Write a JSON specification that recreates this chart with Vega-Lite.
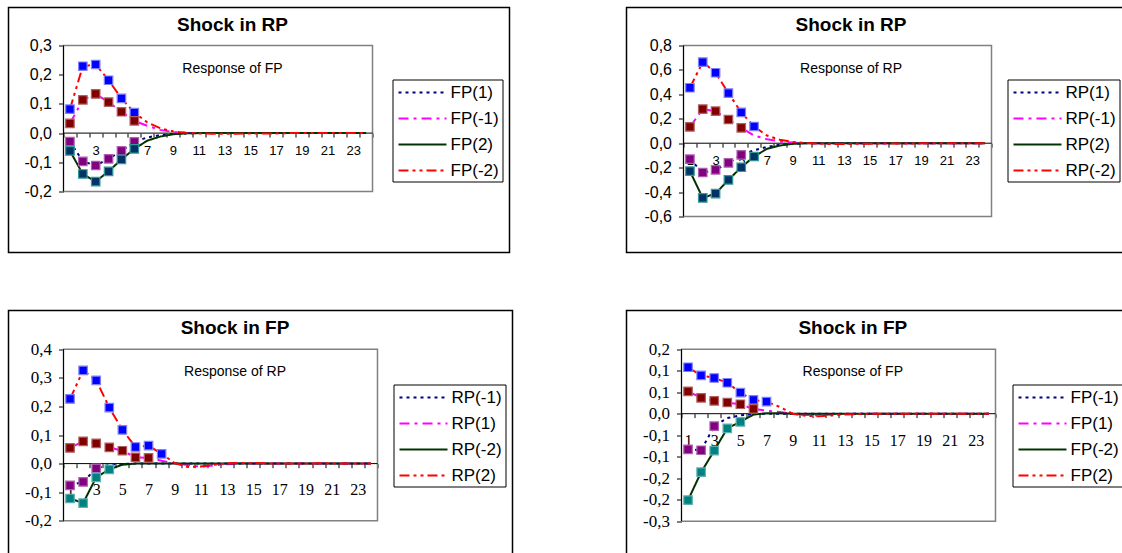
{
"$schema": "https://vega.github.io/schema/vega-lite/v6.json",
"padding": {"left": 7.5, "top": 6.5, "right": 0, "bottom": 0},
"background": "white",
"spacing": 56,
"datasets": {
"L1": [
{"t":1,"v":-0.029,"s":"FP(1)"},{"t":2,"v":-0.097,"s":"FP(1)"},{"t":3,"v":-0.111,"s":"FP(1)"},{"t":4,"v":-0.088,"s":"FP(1)"},{"t":5,"v":-0.061,"s":"FP(1)"},{"t":6,"v":-0.030,"s":"FP(1)"},{"t":7,"v":-0.015,"s":"FP(1)"},{"t":8,"v":-0.007,"s":"FP(1)"},{"t":9,"v":-0.003,"s":"FP(1)"},{"t":10,"v":-0.001,"s":"FP(1)"},{"t":11,"v":0,"s":"FP(1)"},{"t":12,"v":0,"s":"FP(1)"},{"t":13,"v":0,"s":"FP(1)"},{"t":14,"v":0,"s":"FP(1)"},{"t":15,"v":0,"s":"FP(1)"},{"t":16,"v":0,"s":"FP(1)"},{"t":17,"v":0,"s":"FP(1)"},{"t":18,"v":0,"s":"FP(1)"},{"t":19,"v":0,"s":"FP(1)"},{"t":20,"v":0,"s":"FP(1)"},{"t":21,"v":0,"s":"FP(1)"},{"t":22,"v":0,"s":"FP(1)"},{"t":23,"v":0,"s":"FP(1)"},{"t":24,"v":0,"s":"FP(1)"},
{"t":1,"v":0.033,"s":"FP(-1)"},{"t":2,"v":0.114,"s":"FP(-1)"},{"t":3,"v":0.134,"s":"FP(-1)"},{"t":4,"v":0.106,"s":"FP(-1)"},{"t":5,"v":0.073,"s":"FP(-1)"},{"t":6,"v":0.042,"s":"FP(-1)"},{"t":7,"v":0.025,"s":"FP(-1)"},{"t":8,"v":0.011,"s":"FP(-1)"},{"t":9,"v":0.004,"s":"FP(-1)"},{"t":10,"v":0.001,"s":"FP(-1)"},{"t":11,"v":0,"s":"FP(-1)"},{"t":12,"v":0,"s":"FP(-1)"},{"t":13,"v":0,"s":"FP(-1)"},{"t":14,"v":0,"s":"FP(-1)"},{"t":15,"v":0,"s":"FP(-1)"},{"t":16,"v":0,"s":"FP(-1)"},{"t":17,"v":0,"s":"FP(-1)"},{"t":18,"v":0,"s":"FP(-1)"},{"t":19,"v":0,"s":"FP(-1)"},{"t":20,"v":0,"s":"FP(-1)"},{"t":21,"v":0,"s":"FP(-1)"},{"t":22,"v":0,"s":"FP(-1)"},{"t":23,"v":0,"s":"FP(-1)"},{"t":24,"v":0,"s":"FP(-1)"},
{"t":1,"v":-0.061,"s":"FP(2)"},{"t":2,"v":-0.140,"s":"FP(2)"},{"t":3,"v":-0.166,"s":"FP(2)"},{"t":4,"v":-0.131,"s":"FP(2)"},{"t":5,"v":-0.090,"s":"FP(2)"},{"t":6,"v":-0.054,"s":"FP(2)"},{"t":7,"v":-0.026,"s":"FP(2)"},{"t":8,"v":-0.012,"s":"FP(2)"},{"t":9,"v":-0.004,"s":"FP(2)"},{"t":10,"v":-0.001,"s":"FP(2)"},{"t":11,"v":0,"s":"FP(2)"},{"t":12,"v":0,"s":"FP(2)"},{"t":13,"v":0,"s":"FP(2)"},{"t":14,"v":0,"s":"FP(2)"},{"t":15,"v":0,"s":"FP(2)"},{"t":16,"v":0,"s":"FP(2)"},{"t":17,"v":0,"s":"FP(2)"},{"t":18,"v":0,"s":"FP(2)"},{"t":19,"v":0,"s":"FP(2)"},{"t":20,"v":0,"s":"FP(2)"},{"t":21,"v":0,"s":"FP(2)"},{"t":22,"v":0,"s":"FP(2)"},{"t":23,"v":0,"s":"FP(2)"},{"t":24,"v":0,"s":"FP(2)"},
{"t":1,"v":0.082,"s":"FP(-2)"},{"t":2,"v":0.229,"s":"FP(-2)"},{"t":3,"v":0.235,"s":"FP(-2)"},{"t":4,"v":0.181,"s":"FP(-2)"},{"t":5,"v":0.119,"s":"FP(-2)"},{"t":6,"v":0.070,"s":"FP(-2)"},{"t":7,"v":0.037,"s":"FP(-2)"},{"t":8,"v":0.017,"s":"FP(-2)"},{"t":9,"v":0.006,"s":"FP(-2)"},{"t":10,"v":0.001,"s":"FP(-2)"},{"t":11,"v":-0.001,"s":"FP(-2)"},{"t":12,"v":-0.002,"s":"FP(-2)"},{"t":13,"v":-0.002,"s":"FP(-2)"},{"t":14,"v":-0.002,"s":"FP(-2)"},{"t":15,"v":-0.001,"s":"FP(-2)"},{"t":16,"v":-0.001,"s":"FP(-2)"},{"t":17,"v":-0.001,"s":"FP(-2)"},{"t":18,"v":0,"s":"FP(-2)"},{"t":19,"v":0,"s":"FP(-2)"},{"t":20,"v":0,"s":"FP(-2)"},{"t":21,"v":0,"s":"FP(-2)"},{"t":22,"v":0,"s":"FP(-2)"},{"t":23,"v":0,"s":"FP(-2)"},{"t":24,"v":0,"s":"FP(-2)"}
],
"M1": [
{"t":1,"v":0.082,"m":"blue"},{"t":2,"v":0.229,"m":"blue"},{"t":3,"v":0.235,"m":"blue"},{"t":4,"v":0.181,"m":"blue"},{"t":5,"v":0.119,"m":"blue"},{"t":6,"v":0.070,"m":"blue"},
{"t":1,"v":0.033,"m":"maroon"},{"t":2,"v":0.114,"m":"maroon"},{"t":3,"v":0.134,"m":"maroon"},{"t":4,"v":0.106,"m":"maroon"},{"t":5,"v":0.073,"m":"maroon"},{"t":6,"v":0.042,"m":"maroon"},
{"t":1,"v":-0.029,"m":"purple"},{"t":2,"v":-0.097,"m":"purple"},{"t":3,"v":-0.111,"m":"purple"},{"t":4,"v":-0.088,"m":"purple"},{"t":5,"v":-0.061,"m":"purple"},{"t":6,"v":-0.030,"m":"purple"},
{"t":1,"v":-0.061,"m":"teal"},{"t":2,"v":-0.140,"m":"teal"},{"t":3,"v":-0.166,"m":"teal"},{"t":4,"v":-0.131,"m":"teal"},{"t":5,"v":-0.090,"m":"teal"},{"t":6,"v":-0.054,"m":"teal"}
],
"L2": [
{"t":1,"v":-0.131,"s":"RP(1)"},{"t":2,"v":-0.240,"s":"RP(1)"},{"t":3,"v":-0.218,"s":"RP(1)"},{"t":4,"v":-0.161,"s":"RP(1)"},{"t":5,"v":-0.095,"s":"RP(1)"},{"t":6,"v":-0.058,"s":"RP(1)"},{"t":7,"v":-0.030,"s":"RP(1)"},{"t":8,"v":-0.013,"s":"RP(1)"},{"t":9,"v":-0.005,"s":"RP(1)"},{"t":10,"v":-0.001,"s":"RP(1)"},{"t":11,"v":0,"s":"RP(1)"},{"t":12,"v":0,"s":"RP(1)"},{"t":13,"v":0,"s":"RP(1)"},{"t":14,"v":0,"s":"RP(1)"},{"t":15,"v":0,"s":"RP(1)"},{"t":16,"v":0,"s":"RP(1)"},{"t":17,"v":0,"s":"RP(1)"},{"t":18,"v":0,"s":"RP(1)"},{"t":19,"v":0,"s":"RP(1)"},{"t":20,"v":0,"s":"RP(1)"},{"t":21,"v":0,"s":"RP(1)"},{"t":22,"v":0,"s":"RP(1)"},{"t":23,"v":0,"s":"RP(1)"},{"t":24,"v":0,"s":"RP(1)"},
{"t":1,"v":0.134,"s":"RP(-1)"},{"t":2,"v":0.279,"s":"RP(-1)"},{"t":3,"v":0.262,"s":"RP(-1)"},{"t":4,"v":0.194,"s":"RP(-1)"},{"t":5,"v":0.126,"s":"RP(-1)"},{"t":6,"v":0.063,"s":"RP(-1)"},{"t":7,"v":0.033,"s":"RP(-1)"},{"t":8,"v":0.015,"s":"RP(-1)"},{"t":9,"v":0.005,"s":"RP(-1)"},{"t":10,"v":0.001,"s":"RP(-1)"},{"t":11,"v":0,"s":"RP(-1)"},{"t":12,"v":0,"s":"RP(-1)"},{"t":13,"v":0,"s":"RP(-1)"},{"t":14,"v":0,"s":"RP(-1)"},{"t":15,"v":0,"s":"RP(-1)"},{"t":16,"v":0,"s":"RP(-1)"},{"t":17,"v":0,"s":"RP(-1)"},{"t":18,"v":0,"s":"RP(-1)"},{"t":19,"v":0,"s":"RP(-1)"},{"t":20,"v":0,"s":"RP(-1)"},{"t":21,"v":0,"s":"RP(-1)"},{"t":22,"v":0,"s":"RP(-1)"},{"t":23,"v":0,"s":"RP(-1)"},{"t":24,"v":0,"s":"RP(-1)"},
{"t":1,"v":-0.229,"s":"RP(2)"},{"t":2,"v":-0.448,"s":"RP(2)"},{"t":3,"v":-0.412,"s":"RP(2)"},{"t":4,"v":-0.300,"s":"RP(2)"},{"t":5,"v":-0.197,"s":"RP(2)"},{"t":6,"v":-0.109,"s":"RP(2)"},{"t":7,"v":-0.046,"s":"RP(2)"},{"t":8,"v":-0.019,"s":"RP(2)"},{"t":9,"v":-0.005,"s":"RP(2)"},{"t":10,"v":-0.001,"s":"RP(2)"},{"t":11,"v":0,"s":"RP(2)"},{"t":12,"v":0,"s":"RP(2)"},{"t":13,"v":0,"s":"RP(2)"},{"t":14,"v":0,"s":"RP(2)"},{"t":15,"v":0,"s":"RP(2)"},{"t":16,"v":0,"s":"RP(2)"},{"t":17,"v":0,"s":"RP(2)"},{"t":18,"v":0,"s":"RP(2)"},{"t":19,"v":0,"s":"RP(2)"},{"t":20,"v":0,"s":"RP(2)"},{"t":21,"v":0,"s":"RP(2)"},{"t":22,"v":0,"s":"RP(2)"},{"t":23,"v":0,"s":"RP(2)"},{"t":24,"v":0,"s":"RP(2)"},
{"t":1,"v":0.454,"s":"RP(-2)"},{"t":2,"v":0.664,"s":"RP(-2)"},{"t":3,"v":0.577,"s":"RP(-2)"},{"t":4,"v":0.410,"s":"RP(-2)"},{"t":5,"v":0.252,"s":"RP(-2)"},{"t":6,"v":0.137,"s":"RP(-2)"},{"t":7,"v":0.063,"s":"RP(-2)"},{"t":8,"v":0.028,"s":"RP(-2)"},{"t":9,"v":0.010,"s":"RP(-2)"},{"t":10,"v":0.002,"s":"RP(-2)"},{"t":11,"v":-0.004,"s":"RP(-2)"},{"t":12,"v":-0.006,"s":"RP(-2)"},{"t":13,"v":-0.006,"s":"RP(-2)"},{"t":14,"v":-0.005,"s":"RP(-2)"},{"t":15,"v":-0.004,"s":"RP(-2)"},{"t":16,"v":-0.003,"s":"RP(-2)"},{"t":17,"v":-0.002,"s":"RP(-2)"},{"t":18,"v":-0.002,"s":"RP(-2)"},{"t":19,"v":-0.001,"s":"RP(-2)"},{"t":20,"v":-0.001,"s":"RP(-2)"},{"t":21,"v":0,"s":"RP(-2)"},{"t":22,"v":0,"s":"RP(-2)"},{"t":23,"v":0,"s":"RP(-2)"},{"t":24,"v":0,"s":"RP(-2)"}
],
"M2": [
{"t":1,"v":0.454,"m":"blue"},{"t":2,"v":0.664,"m":"blue"},{"t":3,"v":0.577,"m":"blue"},{"t":4,"v":0.410,"m":"blue"},{"t":5,"v":0.252,"m":"blue"},{"t":6,"v":0.137,"m":"blue"},
{"t":1,"v":0.134,"m":"maroon"},{"t":2,"v":0.279,"m":"maroon"},{"t":3,"v":0.262,"m":"maroon"},{"t":4,"v":0.194,"m":"maroon"},{"t":5,"v":0.126,"m":"maroon"},
{"t":1,"v":-0.131,"m":"purple"},{"t":2,"v":-0.240,"m":"purple"},{"t":3,"v":-0.218,"m":"purple"},{"t":4,"v":-0.161,"m":"purple"},{"t":5,"v":-0.095,"m":"purple"},
{"t":1,"v":-0.229,"m":"teal"},{"t":2,"v":-0.448,"m":"teal"},{"t":3,"v":-0.412,"m":"teal"},{"t":4,"v":-0.300,"m":"teal"},{"t":5,"v":-0.197,"m":"teal"},{"t":6,"v":-0.109,"m":"teal"}
],
"L3": [
{"t":1,"v":-0.076,"s":"RP(-1)"},{"t":2,"v":-0.064,"s":"RP(-1)"},{"t":3,"v":-0.017,"s":"RP(-1)"},{"t":4,"v":-0.004,"s":"RP(-1)"},{"t":5,"v":-0.001,"s":"RP(-1)"},{"t":6,"v":0,"s":"RP(-1)"},{"t":7,"v":0,"s":"RP(-1)"},{"t":8,"v":0,"s":"RP(-1)"},{"t":9,"v":0,"s":"RP(-1)"},{"t":10,"v":0,"s":"RP(-1)"},{"t":11,"v":0,"s":"RP(-1)"},{"t":12,"v":0,"s":"RP(-1)"},{"t":13,"v":0,"s":"RP(-1)"},{"t":14,"v":0,"s":"RP(-1)"},{"t":15,"v":0,"s":"RP(-1)"},{"t":16,"v":0,"s":"RP(-1)"},{"t":17,"v":0,"s":"RP(-1)"},{"t":18,"v":0,"s":"RP(-1)"},{"t":19,"v":0,"s":"RP(-1)"},{"t":20,"v":0,"s":"RP(-1)"},{"t":21,"v":0,"s":"RP(-1)"},{"t":22,"v":0,"s":"RP(-1)"},{"t":23,"v":0,"s":"RP(-1)"},{"t":24,"v":0,"s":"RP(-1)"},
{"t":1,"v":0.055,"s":"RP(1)"},{"t":2,"v":0.078,"s":"RP(1)"},{"t":3,"v":0.071,"s":"RP(1)"},{"t":4,"v":0.057,"s":"RP(1)"},{"t":5,"v":0.045,"s":"RP(1)"},{"t":6,"v":0.022,"s":"RP(1)"},{"t":7,"v":0.020,"s":"RP(1)"},{"t":8,"v":0.010,"s":"RP(1)"},{"t":9,"v":0.001,"s":"RP(1)"},{"t":10,"v":-0.005,"s":"RP(1)"},{"t":11,"v":-0.011,"s":"RP(1)"},{"t":12,"v":-0.006,"s":"RP(1)"},{"t":13,"v":-0.002,"s":"RP(1)"},{"t":14,"v":0,"s":"RP(1)"},{"t":15,"v":0,"s":"RP(1)"},{"t":16,"v":0,"s":"RP(1)"},{"t":17,"v":0,"s":"RP(1)"},{"t":18,"v":0,"s":"RP(1)"},{"t":19,"v":0,"s":"RP(1)"},{"t":20,"v":0,"s":"RP(1)"},{"t":21,"v":0,"s":"RP(1)"},{"t":22,"v":0,"s":"RP(1)"},{"t":23,"v":0,"s":"RP(1)"},{"t":24,"v":0,"s":"RP(1)"},
{"t":1,"v":-0.122,"s":"RP(-2)"},{"t":2,"v":-0.138,"s":"RP(-2)"},{"t":3,"v":-0.048,"s":"RP(-2)"},{"t":4,"v":-0.020,"s":"RP(-2)"},{"t":5,"v":-0.004,"s":"RP(-2)"},{"t":6,"v":0,"s":"RP(-2)"},{"t":7,"v":0,"s":"RP(-2)"},{"t":8,"v":0,"s":"RP(-2)"},{"t":9,"v":0,"s":"RP(-2)"},{"t":10,"v":0,"s":"RP(-2)"},{"t":11,"v":0,"s":"RP(-2)"},{"t":12,"v":0,"s":"RP(-2)"},{"t":13,"v":0,"s":"RP(-2)"},{"t":14,"v":0,"s":"RP(-2)"},{"t":15,"v":0,"s":"RP(-2)"},{"t":16,"v":0,"s":"RP(-2)"},{"t":17,"v":0,"s":"RP(-2)"},{"t":18,"v":0,"s":"RP(-2)"},{"t":19,"v":0,"s":"RP(-2)"},{"t":20,"v":0,"s":"RP(-2)"},{"t":21,"v":0,"s":"RP(-2)"},{"t":22,"v":0,"s":"RP(-2)"},{"t":23,"v":0,"s":"RP(-2)"},{"t":24,"v":0,"s":"RP(-2)"},
{"t":1,"v":0.226,"s":"RP(2)"},{"t":2,"v":0.326,"s":"RP(2)"},{"t":3,"v":0.291,"s":"RP(2)"},{"t":4,"v":0.196,"s":"RP(2)"},{"t":5,"v":0.118,"s":"RP(2)"},{"t":6,"v":0.058,"s":"RP(2)"},{"t":7,"v":0.063,"s":"RP(2)"},{"t":8,"v":0.034,"s":"RP(2)"},{"t":9,"v":0.002,"s":"RP(2)"},{"t":10,"v":-0.012,"s":"RP(2)"},{"t":11,"v":-0.010,"s":"RP(2)"},{"t":12,"v":-0.004,"s":"RP(2)"},{"t":13,"v":0.001,"s":"RP(2)"},{"t":14,"v":0.002,"s":"RP(2)"},{"t":15,"v":0.002,"s":"RP(2)"},{"t":16,"v":0.001,"s":"RP(2)"},{"t":17,"v":0,"s":"RP(2)"},{"t":18,"v":0,"s":"RP(2)"},{"t":19,"v":0,"s":"RP(2)"},{"t":20,"v":0.001,"s":"RP(2)"},{"t":21,"v":0.001,"s":"RP(2)"},{"t":22,"v":0,"s":"RP(2)"},{"t":23,"v":0,"s":"RP(2)"},{"t":24,"v":0,"s":"RP(2)"}
],
"M3": [
{"t":1,"v":0.226,"m":"blue"},{"t":2,"v":0.326,"m":"blue"},{"t":3,"v":0.291,"m":"blue"},{"t":4,"v":0.196,"m":"blue"},{"t":5,"v":0.118,"m":"blue"},{"t":6,"v":0.058,"m":"blue"},{"t":7,"v":0.063,"m":"blue"},{"t":8,"v":0.034,"m":"blue"},
{"t":1,"v":0.055,"m":"maroon"},{"t":2,"v":0.078,"m":"maroon"},{"t":3,"v":0.071,"m":"maroon"},{"t":4,"v":0.057,"m":"maroon"},{"t":5,"v":0.045,"m":"maroon"},{"t":6,"v":0.022,"m":"maroon"},{"t":7,"v":0.020,"m":"maroon"},
{"t":1,"v":-0.076,"m":"purple"},{"t":2,"v":-0.064,"m":"purple"},{"t":3,"v":-0.017,"m":"purple"},
{"t":1,"v":-0.122,"m":"teal"},{"t":2,"v":-0.138,"m":"teal"},{"t":3,"v":-0.048,"m":"teal"},{"t":4,"v":-0.020,"m":"teal"}
],
"L4": [
{"t":1,"v":-0.083,"s":"FP(-1)"},{"t":2,"v":-0.085,"s":"FP(-1)"},{"t":3,"v":-0.029,"s":"FP(-1)"},{"t":4,"v":-0.010,"s":"FP(-1)"},{"t":5,"v":-0.004,"s":"FP(-1)"},{"t":6,"v":-0.001,"s":"FP(-1)"},{"t":7,"v":0,"s":"FP(-1)"},{"t":8,"v":0,"s":"FP(-1)"},{"t":9,"v":0,"s":"FP(-1)"},{"t":10,"v":0,"s":"FP(-1)"},{"t":11,"v":0,"s":"FP(-1)"},{"t":12,"v":0,"s":"FP(-1)"},{"t":13,"v":0,"s":"FP(-1)"},{"t":14,"v":0,"s":"FP(-1)"},{"t":15,"v":0,"s":"FP(-1)"},{"t":16,"v":0,"s":"FP(-1)"},{"t":17,"v":0,"s":"FP(-1)"},{"t":18,"v":0,"s":"FP(-1)"},{"t":19,"v":0,"s":"FP(-1)"},{"t":20,"v":0,"s":"FP(-1)"},{"t":21,"v":0,"s":"FP(-1)"},{"t":22,"v":0,"s":"FP(-1)"},{"t":23,"v":0,"s":"FP(-1)"},{"t":24,"v":0,"s":"FP(-1)"},
{"t":1,"v":0.052,"s":"FP(1)"},{"t":2,"v":0.037,"s":"FP(1)"},{"t":3,"v":0.030,"s":"FP(1)"},{"t":4,"v":0.026,"s":"FP(1)"},{"t":5,"v":0.022,"s":"FP(1)"},{"t":6,"v":0.011,"s":"FP(1)"},{"t":7,"v":0.007,"s":"FP(1)"},{"t":8,"v":0.004,"s":"FP(1)"},{"t":9,"v":0,"s":"FP(1)"},{"t":10,"v":-0.003,"s":"FP(1)"},{"t":11,"v":-0.004,"s":"FP(1)"},{"t":12,"v":-0.002,"s":"FP(1)"},{"t":13,"v":-0.001,"s":"FP(1)"},{"t":14,"v":0,"s":"FP(1)"},{"t":15,"v":0,"s":"FP(1)"},{"t":16,"v":0,"s":"FP(1)"},{"t":17,"v":0,"s":"FP(1)"},{"t":18,"v":0,"s":"FP(1)"},{"t":19,"v":0,"s":"FP(1)"},{"t":20,"v":0,"s":"FP(1)"},{"t":21,"v":0,"s":"FP(1)"},{"t":22,"v":0,"s":"FP(1)"},{"t":23,"v":0,"s":"FP(1)"},{"t":24,"v":0,"s":"FP(1)"},
{"t":1,"v":-0.201,"s":"FP(-2)"},{"t":2,"v":-0.136,"s":"FP(-2)"},{"t":3,"v":-0.086,"s":"FP(-2)"},{"t":4,"v":-0.034,"s":"FP(-2)"},{"t":5,"v":-0.019,"s":"FP(-2)"},{"t":6,"v":-0.002,"s":"FP(-2)"},{"t":7,"v":0.001,"s":"FP(-2)"},{"t":8,"v":0.001,"s":"FP(-2)"},{"t":9,"v":0,"s":"FP(-2)"},{"t":10,"v":0,"s":"FP(-2)"},{"t":11,"v":0,"s":"FP(-2)"},{"t":12,"v":0,"s":"FP(-2)"},{"t":13,"v":0,"s":"FP(-2)"},{"t":14,"v":0,"s":"FP(-2)"},{"t":15,"v":0,"s":"FP(-2)"},{"t":16,"v":0,"s":"FP(-2)"},{"t":17,"v":0,"s":"FP(-2)"},{"t":18,"v":0,"s":"FP(-2)"},{"t":19,"v":0,"s":"FP(-2)"},{"t":20,"v":0,"s":"FP(-2)"},{"t":21,"v":0,"s":"FP(-2)"},{"t":22,"v":0,"s":"FP(-2)"},{"t":23,"v":0,"s":"FP(-2)"},{"t":24,"v":0,"s":"FP(-2)"},
{"t":1,"v":0.108,"s":"FP(2)"},{"t":2,"v":0.089,"s":"FP(2)"},{"t":3,"v":0.083,"s":"FP(2)"},{"t":4,"v":0.072,"s":"FP(2)"},{"t":5,"v":0.049,"s":"FP(2)"},{"t":6,"v":0.032,"s":"FP(2)"},{"t":7,"v":0.028,"s":"FP(2)"},{"t":8,"v":0.016,"s":"FP(2)"},{"t":9,"v":0,"s":"FP(2)"},{"t":10,"v":-0.005,"s":"FP(2)"},{"t":11,"v":-0.006,"s":"FP(2)"},{"t":12,"v":-0.004,"s":"FP(2)"},{"t":13,"v":-0.002,"s":"FP(2)"},{"t":14,"v":-0.001,"s":"FP(2)"},{"t":15,"v":0,"s":"FP(2)"},{"t":16,"v":0,"s":"FP(2)"},{"t":17,"v":0,"s":"FP(2)"},{"t":18,"v":0,"s":"FP(2)"},{"t":19,"v":0,"s":"FP(2)"},{"t":20,"v":0,"s":"FP(2)"},{"t":21,"v":0,"s":"FP(2)"},{"t":22,"v":0,"s":"FP(2)"},{"t":23,"v":0,"s":"FP(2)"},{"t":24,"v":0,"s":"FP(2)"}
],
"M4": [
{"t":1,"v":0.108,"m":"blue"},{"t":2,"v":0.089,"m":"blue"},{"t":3,"v":0.083,"m":"blue"},{"t":4,"v":0.072,"m":"blue"},{"t":5,"v":0.049,"m":"blue"},{"t":6,"v":0.032,"m":"blue"},{"t":7,"v":0.028,"m":"blue"},
{"t":1,"v":0.052,"m":"maroon"},{"t":2,"v":0.037,"m":"maroon"},{"t":3,"v":0.030,"m":"maroon"},{"t":4,"v":0.026,"m":"maroon"},{"t":5,"v":0.022,"m":"maroon"},{"t":6,"v":0.011,"m":"maroon"},
{"t":1,"v":-0.083,"m":"purple"},{"t":2,"v":-0.085,"m":"purple"},{"t":3,"v":-0.029,"m":"purple"},
{"t":1,"v":-0.201,"m":"teal"},{"t":2,"v":-0.136,"m":"teal"},{"t":3,"v":-0.086,"m":"teal"},{"t":4,"v":-0.034,"m":"teal"},{"t":5,"v":-0.019,"m":"teal"}
]
},
"resolve": {"scale": {"x": "independent", "y": "independent", "color": "independent", "strokeDash": "independent", "strokeWidth": "independent", "fill": "independent", "stroke": "independent"}},
"vconcat": [
{
"spacing": 115,
"resolve": {"scale": {"x": "independent", "y": "independent", "color": "independent", "strokeDash": "independent", "strokeWidth": "independent", "fill": "independent", "stroke": "independent"}},
"hconcat": [
{
"width": 501, "height": 245,
"title": {"text": "Shock in RP", "subtitle": "Response of FP", "anchor": "middle", "frame": "group", "offset": -68, "dx": -26.5, "font": "Liberation Sans", "fontSize": 19, "fontWeight": "bold", "color": "black", "subtitleFont": "Liberation Sans", "subtitleFontSize": 14, "subtitleColor": "black", "subtitlePadding": 27},
"layer": [
{"data": {"values": [{}]}, "mark": {"type": "rect", "fillOpacity": 0, "stroke": "#808080", "strokeWidth": 1.5},
 "encoding": {
  "x": {"datum": 0.5, "type": "quantitative", "scale": {"domain": [-3.772, 35.14], "nice": false, "zero": false},
   "axis": {"orient": "bottom", "offset": -119.4, "title": null, "domain": false, "grid": false, "tickCount": 200, "values": [0.5,1,1.5,2,2.5,3,3.5,4,4.5,5,5.5,6,6.5,7,7.5,8,8.5,9,9.5,10,10.5,11,11.5,12,12.5,13,13.5,14,14.5,15,15.5,16,16.5,17,17.5,18,18.5,19,19.5,20,20.5,21,21.5,22,22.5,23,23.5,24,24.5],
    "labelExpr": "datum.value % 2 === 1 ? '' + datum.value : ''", "tickOpacity": {"condition": {"test": "datum.value % 1 === 0", "value": 0}, "value": 1},
    "tickSize": 4, "tickColor": "black", "labelPadding": 7, "labelFont": "Liberation Sans", "labelFontSize": 13, "labelColor": "black", "labelOverlap": false, "labelFlush": false, "labelBound": false}},
  "x2": {"datum": 24.5},
  "y": {"datum": -0.2, "type": "quantitative", "scale": {"domain": [-0.4089, 0.4301], "nice": false, "zero": false},
   "axis": {"orient": "left", "offset": -55, "title": null, "domain": false, "grid": false, "tickCount": 50, "values": [-0.2,-0.1,0,0.1,0.2,0.3],
    "labelExpr": "(datum.value < -1e-9 ? '-' : '') + replace(format(abs(datum.value) + 1e-9, '.1f'), '.', ',')",
    "tickSize": 5, "tickColor": "black", "labelPadding": 7, "labelFont": "Liberation Sans", "labelFontSize": 16, "labelColor": "black", "labelOverlap": false, "labelFlush": false, "labelBound": false}},
  "y2": {"datum": 0.3}}},
{"data": {"values": [{}]}, "mark": {"type": "rule", "color": "black", "strokeWidth": 1},
 "encoding": {"x": {"datum": 0.5, "type": "quantitative"}, "x2": {"datum": 24.5}, "y": {"datum": 0, "type": "quantitative"}}},
{"data": {"values": [{}]}, "mark": {"type": "rule", "color": "black", "strokeWidth": 1},
 "encoding": {"x": {"datum": 0.5, "type": "quantitative"}, "y": {"datum": -0.2, "type": "quantitative"}, "y2": {"datum": 0.3}}},
{"data": {"name": "L1"}, "mark": {"type": "line", "strokeCap": "butt"},
 "encoding": {
  "x": {"field": "t", "type": "quantitative"},
  "y": {"field": "v", "type": "quantitative"},
  "color": {"field": "s", "type": "nominal", "scale": {"domain": ["FP(1)","FP(-1)","FP(2)","FP(-2)"], "range": ["#000080","#FF00FF","#003300","#FF0000"]},
   "legend": {"orient": "none", "legendX": 384, "legendY": 72, "title": null, "strokeColor": "black", "fillColor": "white", "padding": 3, "labelFont": "Liberation Sans", "labelFontSize": 17, "labelColor": "black", "symbolType": "M-2.667,0H2.667", "symbolSize": 324, "symbolOffset": 17, "symbolStrokeWidth": 2, "rowPadding": 8, "labelOffset": 18}},
  "strokeDash": {"field": "s", "type": "nominal", "scale": {"domain": ["FP(1)","FP(-1)","FP(2)","FP(-2)"], "range": [[3,4],[10,5,3,5],[1,0],[10,4,3,4,3,4]]},
   "legend": {"orient": "none", "legendX": 384, "legendY": 72, "title": null, "strokeColor": "black", "fillColor": "white", "padding": 3, "labelFont": "Liberation Sans", "labelFontSize": 17, "labelColor": "black", "symbolType": "M-2.667,0H2.667", "symbolSize": 324, "symbolOffset": 17, "symbolStrokeWidth": 2, "rowPadding": 8, "labelOffset": 18}},
  "strokeWidth": {"field": "s", "type": "nominal", "scale": {"domain": ["FP(1)","FP(-1)","FP(2)","FP(-2)"], "range": [2,2,1.5,2]}, "legend": null}
 }},
{"data": {"name": "M1"}, "mark": {"type": "point", "shape": "square", "filled": true, "size": 72, "strokeWidth": 1.2, "opacity": 1},
 "encoding": {
  "x": {"field": "t", "type": "quantitative"},
  "y": {"field": "v", "type": "quantitative"},
  "fill": {"field": "m", "type": "nominal", "scale": {"domain": ["blue","maroon","purple","teal"], "range": ["#0000FF","#800000","#800080","#003366"]}, "legend": null},
  "stroke": {"field": "m", "type": "nominal", "scale": {"domain": ["blue","maroon","purple","teal"], "range": ["#8080FF","#B06060","#B060B0","#339999"]}, "legend": null}
 }}
]
},
{
"width": 501, "height": 245,
"title": {"text": "Shock in RP", "subtitle": "Response of RP", "anchor": "middle", "frame": "group", "offset": -68, "dx": -26, "font": "Liberation Sans", "fontSize": 19, "fontWeight": "bold", "color": "black", "subtitleFont": "Liberation Sans", "subtitleFontSize": 14, "subtitleColor": "black", "subtitlePadding": 27},
"layer": [
{"data": {"values": [{}]}, "mark": {"type": "rect", "fillOpacity": 0, "stroke": "#808080", "strokeWidth": 1.5},
 "encoding": {
  "x": {"datum": 0.5, "type": "quantitative", "scale": {"domain": [-3.942, 35.097], "nice": false, "zero": false},
   "axis": {"orient": "bottom", "offset": -109.3, "title": null, "domain": false, "grid": false, "tickCount": 200, "values": [0.5,1,1.5,2,2.5,3,3.5,4,4.5,5,5.5,6,6.5,7,7.5,8,8.5,9,9.5,10,10.5,11,11.5,12,12.5,13,13.5,14,14.5,15,15.5,16,16.5,17,17.5,18,18.5,19,19.5,20,20.5,21,21.5,22,22.5,23,23.5,24,24.5],
    "labelExpr": "datum.value % 2 === 1 ? '' + datum.value : ''", "tickOpacity": {"condition": {"test": "datum.value % 1 === 0", "value": 0}, "value": 1},
    "tickSize": 4, "tickColor": "black", "labelPadding": 7, "labelFont": "Liberation Sans", "labelFontSize": 13, "labelColor": "black", "labelOverlap": false, "labelFlush": false, "labelBound": false}},
  "x2": {"datum": 24.5},
  "y": {"datum": -0.6, "type": "quantitative", "scale": {"domain": [-0.8947, 1.1111], "nice": false, "zero": false},
   "axis": {"orient": "left", "offset": -57, "title": null, "domain": false, "grid": false, "tickCount": 50, "values": [-0.6,-0.4,-0.2,0,0.2,0.4,0.6,0.8],
    "labelExpr": "(datum.value < -1e-9 ? '-' : '') + replace(format(abs(datum.value) + 1e-9, '.1f'), '.', ',')",
    "tickSize": 5, "tickColor": "black", "labelPadding": 7, "labelFont": "Liberation Sans", "labelFontSize": 16, "labelColor": "black", "labelOverlap": false, "labelFlush": false, "labelBound": false}},
  "y2": {"datum": 0.8}}},
{"data": {"values": [{}]}, "mark": {"type": "rule", "color": "black", "strokeWidth": 1},
 "encoding": {"x": {"datum": 0.5, "type": "quantitative"}, "x2": {"datum": 24.5}, "y": {"datum": 0, "type": "quantitative"}}},
{"data": {"values": [{}]}, "mark": {"type": "rule", "color": "black", "strokeWidth": 1},
 "encoding": {"x": {"datum": 0.5, "type": "quantitative"}, "y": {"datum": -0.6, "type": "quantitative"}, "y2": {"datum": 0.8}}},
{"data": {"name": "L2"}, "mark": {"type": "line", "strokeCap": "butt"},
 "encoding": {
  "x": {"field": "t", "type": "quantitative"},
  "y": {"field": "v", "type": "quantitative"},
  "color": {"field": "s", "type": "nominal", "scale": {"domain": ["RP(1)","RP(-1)","RP(2)","RP(-2)"], "range": ["#000080","#FF00FF","#003300","#FF0000"]},
   "legend": {"orient": "none", "legendX": 381, "legendY": 72, "title": null, "strokeColor": "black", "fillColor": "white", "padding": 3, "labelFont": "Liberation Sans", "labelFontSize": 17, "labelColor": "black", "symbolType": "M-2.667,0H2.667", "symbolSize": 324, "symbolOffset": 17, "symbolStrokeWidth": 2, "rowPadding": 8, "labelOffset": 18}},
  "strokeDash": {"field": "s", "type": "nominal", "scale": {"domain": ["RP(1)","RP(-1)","RP(2)","RP(-2)"], "range": [[3,4],[10,5,3,5],[1,0],[10,4,3,4,3,4]]},
   "legend": {"orient": "none", "legendX": 381, "legendY": 72, "title": null, "strokeColor": "black", "fillColor": "white", "padding": 3, "labelFont": "Liberation Sans", "labelFontSize": 17, "labelColor": "black", "symbolType": "M-2.667,0H2.667", "symbolSize": 324, "symbolOffset": 17, "symbolStrokeWidth": 2, "rowPadding": 8, "labelOffset": 18}},
  "strokeWidth": {"field": "s", "type": "nominal", "scale": {"domain": ["RP(1)","RP(-1)","RP(2)","RP(-2)"], "range": [2,2,1.5,2]}, "legend": null}
 }},
{"data": {"name": "M2"}, "mark": {"type": "point", "shape": "square", "filled": true, "size": 72, "strokeWidth": 1.2, "opacity": 1},
 "encoding": {
  "x": {"field": "t", "type": "quantitative"},
  "y": {"field": "v", "type": "quantitative"},
  "fill": {"field": "m", "type": "nominal", "scale": {"domain": ["blue","maroon","purple","teal"], "range": ["#0000FF","#800000","#800080","#003366"]}, "legend": null},
  "stroke": {"field": "m", "type": "nominal", "scale": {"domain": ["blue","maroon","purple","teal"], "range": ["#8080FF","#B06060","#B060B0","#339999"]}, "legend": null}
 }}
]
}
]
},
{
"spacing": 112,
"resolve": {"scale": {"x": "independent", "y": "independent", "color": "independent", "strokeDash": "independent", "strokeWidth": "independent", "fill": "independent", "stroke": "independent"}},
"hconcat": [
{
"width": 504, "height": 245,
"title": {"text": "Shock in FP", "subtitle": "Response of RP", "anchor": "middle", "frame": "group", "offset": -68, "dx": -25.5, "font": "Liberation Sans", "fontSize": 19, "fontWeight": "bold", "color": "black", "subtitleFont": "Liberation Sans", "subtitleFontSize": 14, "subtitleColor": "black", "subtitlePadding": 27},
"layer": [
{"data": {"values": [{}]}, "mark": {"type": "rect", "fillOpacity": 0, "stroke": "#808080", "strokeWidth": 1.5},
 "encoding": {
  "x": {"datum": 0.5, "type": "quantitative", "scale": {"domain": [-3.704, 34.82], "nice": false, "zero": false},
   "axis": {"orient": "bottom", "offset": -91.8, "title": null, "domain": false, "grid": false, "tickCount": 200, "values": [0.5,1,1.5,2,2.5,3,3.5,4,4.5,5,5.5,6,6.5,7,7.5,8,8.5,9,9.5,10,10.5,11,11.5,12,12.5,13,13.5,14,14.5,15,15.5,16,16.5,17,17.5,18,18.5,19,19.5,20,20.5,21,21.5,22,22.5,23,23.5,24,24.5],
    "labelExpr": "datum.value % 2 === 1 ? '' + datum.value : ''", "tickOpacity": {"condition": {"test": "datum.value % 1 === 0", "value": 0}, "value": 1},
    "tickSize": 4, "tickColor": "black", "labelPadding": 14, "labelFont": "Liberation Serif", "labelFontSize": 16, "labelColor": "black", "labelOverlap": false, "labelFlush": false, "labelBound": false}},
  "x2": {"datum": 24.5},
  "y": {"datum": -0.2, "type": "quantitative", "scale": {"domain": [-0.3213, 0.5353], "nice": false, "zero": false},
   "axis": {"orient": "left", "offset": -55, "title": null, "domain": false, "grid": false, "tickCount": 50, "values": [-0.2,-0.1,0,0.1,0.2,0.3,0.4],
    "labelExpr": "(datum.value < -1e-9 ? '-' : '') + replace(format(abs(datum.value) + 1e-9, '.1f'), '.', ',')",
    "tickSize": 5, "tickColor": "black", "labelPadding": 7, "labelFont": "Liberation Serif", "labelFontSize": 17, "labelColor": "black", "labelOverlap": false, "labelFlush": false, "labelBound": false}},
  "y2": {"datum": 0.4}}},
{"data": {"values": [{}]}, "mark": {"type": "rule", "color": "black", "strokeWidth": 1},
 "encoding": {"x": {"datum": 0.5, "type": "quantitative"}, "x2": {"datum": 24.5}, "y": {"datum": 0, "type": "quantitative"}}},
{"data": {"values": [{}]}, "mark": {"type": "rule", "color": "black", "strokeWidth": 1},
 "encoding": {"x": {"datum": 0.5, "type": "quantitative"}, "y": {"datum": -0.2, "type": "quantitative"}, "y2": {"datum": 0.4}}},
{"data": {"name": "L3"}, "mark": {"type": "line", "strokeCap": "butt"},
 "encoding": {
  "x": {"field": "t", "type": "quantitative"},
  "y": {"field": "v", "type": "quantitative"},
  "color": {"field": "s", "type": "nominal", "scale": {"domain": ["RP(-1)","RP(1)","RP(-2)","RP(2)"], "range": ["#000080","#FF00FF","#003300","#FF0000"]},
   "legend": {"orient": "none", "legendX": 385, "legendY": 74, "title": null, "strokeColor": "black", "fillColor": "white", "padding": 3, "labelFont": "Liberation Sans", "labelFontSize": 17, "labelColor": "black", "symbolType": "M-2.667,0H2.667", "symbolSize": 324, "symbolOffset": 17, "symbolStrokeWidth": 2, "rowPadding": 8, "labelOffset": 18}},
  "strokeDash": {"field": "s", "type": "nominal", "scale": {"domain": ["RP(-1)","RP(1)","RP(-2)","RP(2)"], "range": [[3,4],[10,5,3,5],[1,0],[10,4,3,4,3,4]]},
   "legend": {"orient": "none", "legendX": 385, "legendY": 74, "title": null, "strokeColor": "black", "fillColor": "white", "padding": 3, "labelFont": "Liberation Sans", "labelFontSize": 17, "labelColor": "black", "symbolType": "M-2.667,0H2.667", "symbolSize": 324, "symbolOffset": 17, "symbolStrokeWidth": 2, "rowPadding": 8, "labelOffset": 18}},
  "strokeWidth": {"field": "s", "type": "nominal", "scale": {"domain": ["RP(-1)","RP(1)","RP(-2)","RP(2)"], "range": [2,2,1.5,2]}, "legend": null}
 }},
{"data": {"name": "M3"}, "mark": {"type": "point", "shape": "square", "filled": true, "size": 72, "strokeWidth": 1.2, "opacity": 1},
 "encoding": {
  "x": {"field": "t", "type": "quantitative"},
  "y": {"field": "v", "type": "quantitative"},
  "fill": {"field": "m", "type": "nominal", "scale": {"domain": ["blue","maroon","purple","teal"], "range": ["#0000FF","#800000","#800080","#008080"]}, "legend": null},
  "stroke": {"field": "m", "type": "nominal", "scale": {"domain": ["blue","maroon","purple","teal"], "range": ["#8080FF","#B06060","#B060B0","#60B0B0"]}, "legend": null}
 }}
]
},
{
"width": 504, "height": 245,
"title": {"text": "Shock in FP", "subtitle": "Response of FP", "anchor": "middle", "frame": "group", "offset": -68, "dx": -25.7, "font": "Liberation Sans", "fontSize": 19, "fontWeight": "bold", "color": "black", "subtitleFont": "Liberation Sans", "subtitleFontSize": 14, "subtitleColor": "black", "subtitlePadding": 27},
"layer": [
{"data": {"values": [{}]}, "mark": {"type": "rect", "fillOpacity": 0, "stroke": "#808080", "strokeWidth": 1.5},
 "encoding": {
  "x": {"datum": 0.5, "type": "quantitative", "scale": {"domain": [-3.704, 34.82], "nice": false, "zero": false},
   "axis": {"orient": "bottom", "offset": -141.9, "title": null, "domain": false, "grid": false, "tickCount": 200, "values": [0.5,1,1.5,2,2.5,3,3.5,4,4.5,5,5.5,6,6.5,7,7.5,8,8.5,9,9.5,10,10.5,11,11.5,12,12.5,13,13.5,14,14.5,15,15.5,16,16.5,17,17.5,18,18.5,19,19.5,20,20.5,21,21.5,22,22.5,23,23.5,24,24.5],
    "labelExpr": "datum.value % 2 === 1 ? '' + datum.value : ''", "tickOpacity": {"condition": {"test": "datum.value % 1 === 0", "value": 0}, "value": 1},
    "tickSize": 4, "tickColor": "black", "labelPadding": 15, "labelFont": "Liberation Serif", "labelFontSize": 16, "labelColor": "black", "labelOverlap": false, "labelFlush": false, "labelBound": false}},
  "x2": {"datum": 24.5},
  "y": {"datum": -0.25, "type": "quantitative", "scale": {"domain": [-0.3298, 0.24], "nice": false, "zero": false},
   "axis": {"orient": "left", "offset": -55, "title": null, "domain": false, "grid": false, "tickCount": 50, "values": [-0.25,-0.2,-0.15,-0.1,-0.05,0,0.05,0.1,0.15],
    "labelExpr": "(datum.value < -1e-9 ? '-' : '') + replace(format(abs(datum.value) + 1e-9, '.1f'), '.', ',')",
    "tickSize": 5, "tickColor": "black", "labelPadding": 7, "labelFont": "Liberation Serif", "labelFontSize": 17, "labelColor": "black", "labelOverlap": false, "labelFlush": false, "labelBound": false}},
  "y2": {"datum": 0.15}}},
{"data": {"values": [{}]}, "mark": {"type": "rule", "color": "black", "strokeWidth": 1},
 "encoding": {"x": {"datum": 0.5, "type": "quantitative"}, "x2": {"datum": 24.5}, "y": {"datum": 0, "type": "quantitative"}}},
{"data": {"values": [{}]}, "mark": {"type": "rule", "color": "black", "strokeWidth": 1},
 "encoding": {"x": {"datum": 0.5, "type": "quantitative"}, "y": {"datum": -0.25, "type": "quantitative"}, "y2": {"datum": 0.15}}},
{"data": {"name": "L4"}, "mark": {"type": "line", "strokeCap": "butt"},
 "encoding": {
  "x": {"field": "t", "type": "quantitative"},
  "y": {"field": "v", "type": "quantitative"},
  "color": {"field": "s", "type": "nominal", "scale": {"domain": ["FP(-1)","FP(1)","FP(-2)","FP(2)"], "range": ["#000080","#FF00FF","#003300","#FF0000"]},
   "legend": {"orient": "none", "legendX": 386, "legendY": 74, "title": null, "strokeColor": "black", "fillColor": "white", "padding": 3, "labelFont": "Liberation Sans", "labelFontSize": 17, "labelColor": "black", "symbolType": "M-2.667,0H2.667", "symbolSize": 324, "symbolOffset": 17, "symbolStrokeWidth": 2, "rowPadding": 8, "labelOffset": 18}},
  "strokeDash": {"field": "s", "type": "nominal", "scale": {"domain": ["FP(-1)","FP(1)","FP(-2)","FP(2)"], "range": [[3,4],[10,5,3,5],[1,0],[10,4,3,4,3,4]]},
   "legend": {"orient": "none", "legendX": 386, "legendY": 74, "title": null, "strokeColor": "black", "fillColor": "white", "padding": 3, "labelFont": "Liberation Sans", "labelFontSize": 17, "labelColor": "black", "symbolType": "M-2.667,0H2.667", "symbolSize": 324, "symbolOffset": 17, "symbolStrokeWidth": 2, "rowPadding": 8, "labelOffset": 18}},
  "strokeWidth": {"field": "s", "type": "nominal", "scale": {"domain": ["FP(-1)","FP(1)","FP(-2)","FP(2)"], "range": [2,2,1.5,2]}, "legend": null}
 }},
{"data": {"name": "M4"}, "mark": {"type": "point", "shape": "square", "filled": true, "size": 72, "strokeWidth": 1.2, "opacity": 1},
 "encoding": {
  "x": {"field": "t", "type": "quantitative"},
  "y": {"field": "v", "type": "quantitative"},
  "fill": {"field": "m", "type": "nominal", "scale": {"domain": ["blue","maroon","purple","teal"], "range": ["#0000FF","#800000","#800080","#008080"]}, "legend": null},
  "stroke": {"field": "m", "type": "nominal", "scale": {"domain": ["blue","maroon","purple","teal"], "range": ["#8080FF","#B06060","#B060B0","#60B0B0"]}, "legend": null}
 }}
]
}
]
}
],
"config": {"view": {"stroke": "black", "strokeWidth": 1.5}, "font": "Liberation Sans"}
}
